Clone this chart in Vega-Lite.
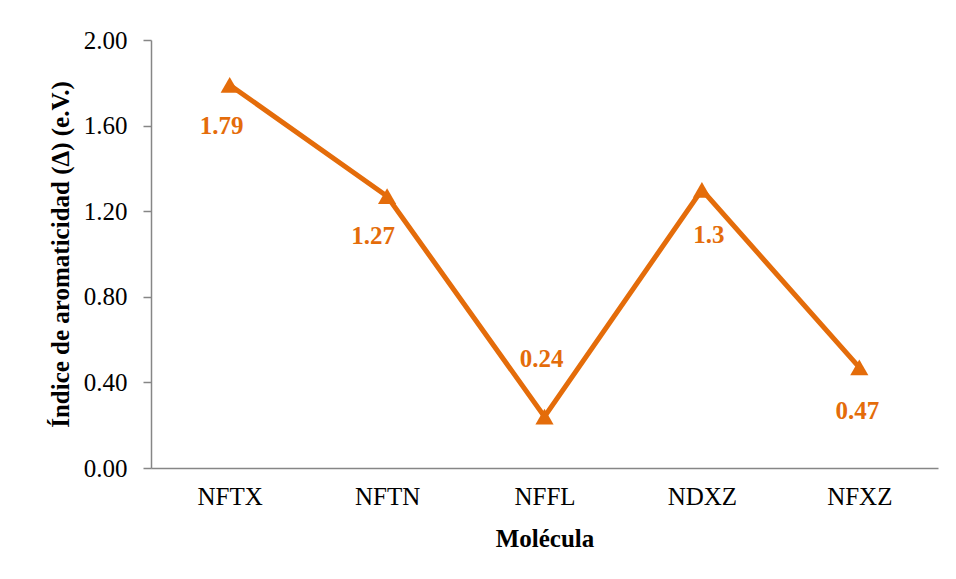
{
  "$schema": "https://vega.github.io/schema/vega-lite/v6.json",
  "width": 787,
  "height": 428,
  "autosize": {"type": "none"},
  "padding": {"left": 151, "top": 40, "right": 18, "bottom": 111},
  "background": "white",
  "config": {
    "view": {"stroke": null},
    "font": "Liberation Serif",
    "axis": {"labelFont": "Liberation Serif", "titleFont": "Liberation Serif", "labelColor": "black", "titleColor": "black", "domainColor": "#868686", "tickColor": "#868686", "domainWidth": 1.5, "tickWidth": 1.5}
  },
  "data": {"values": [
    {"mol": "NFTX", "val": 1.79, "label": "1.79"},
    {"mol": "NFTN", "val": 1.27, "label": "1.27"},
    {"mol": "NFFL", "val": 0.24, "label": "0.24"},
    {"mol": "NDXZ", "val": 1.30, "label": "1.3"},
    {"mol": "NFXZ", "val": 0.47, "label": "0.47"}
  ]},
  "encoding": {
    "x": {"field": "mol", "type": "nominal", "sort": null, "scale": {"type": "point", "padding": 0.5},
      "axis": {"title": "Molécula", "titleFontSize": 25, "titleFontWeight": "bold", "labelFontSize": 25, "labelAngle": 0, "ticks": false, "labelPadding": 16, "titlePadding": 17}},
    "y": {"field": "val", "type": "quantitative", "scale": {"domain": [0, 2]},
      "axis": {"title": "Índice de aromaticidad (Δ) (e.V.)", "titleFontSize": 25, "titleFontWeight": "bold", "labelFontSize": 25, "values": [0, 0.4, 0.8, 1.2, 1.6, 2.0], "format": ".2f", "grid": false, "tickSize": 8, "labelPadding": 16, "titlePadding": 10}}
  },
  "layer": [
    {"mark": {"type": "line", "color": "#E46C0A", "strokeWidth": 5}},
    {"mark": {"type": "point", "shape": "triangle-up", "filled": true, "color": "#E46C0A", "size": 330, "opacity": 1}},
    {"transform": [{"filter": "datum.mol == 'NFTX'"}],
     "mark": {"type": "text", "font": "Liberation Serif", "fontSize": 25, "fontWeight": "bold", "color": "#E46C0A", "dy": 41, "dx": -8},
     "encoding": {"text": {"field": "label"}}},
    {"transform": [{"filter": "datum.mol == 'NFTN'"}],
     "mark": {"type": "text", "font": "Liberation Serif", "fontSize": 25, "fontWeight": "bold", "color": "#E46C0A", "dy": 40, "dx": -14},
     "encoding": {"text": {"field": "label"}}},
    {"transform": [{"filter": "datum.mol == 'NFFL'"}],
     "mark": {"type": "text", "font": "Liberation Serif", "fontSize": 25, "fontWeight": "bold", "color": "#E46C0A", "dy": -58, "dx": -3},
     "encoding": {"text": {"field": "label"}}},
    {"transform": [{"filter": "datum.mol == 'NDXZ'"}],
     "mark": {"type": "text", "font": "Liberation Serif", "fontSize": 25, "fontWeight": "bold", "color": "#E46C0A", "dy": 45, "dx": 7},
     "encoding": {"text": {"field": "label"}}},
    {"transform": [{"filter": "datum.mol == 'NFXZ'"}],
     "mark": {"type": "text", "font": "Liberation Serif", "fontSize": 25, "fontWeight": "bold", "color": "#E46C0A", "dy": 44, "dx": -2},
     "encoding": {"text": {"field": "label"}}}
  ]
}
